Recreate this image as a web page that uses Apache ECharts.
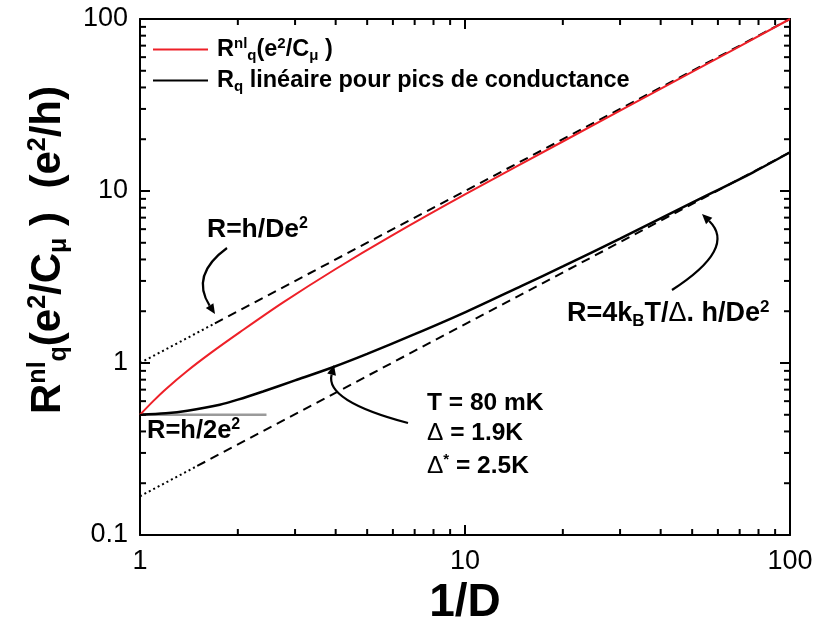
<!DOCTYPE html>
<html><head><meta charset="utf-8">
<script src="https://cdn.jsdelivr.net/npm/echarts@6/dist/echarts.min.js"></script>
<style>html,body{margin:0;padding:0;background:#fff}#c{width:817px;height:620px}</style>
</head><body><div id="c"></div>
<script>
// ---- data ----
const xMinorTicks = [2,3,4,5,6,7,8,9,20,30,40,50,60,70,80,90];
const yMinorTicks = [0.2,0.3,0.4,0.5,0.6,0.7,0.8,0.9,2,3,4,5,6,7,8,9,20,30,40,50,60,70,80,90];
const xRange = [1, 100];
const yRange = [0.1, 100];

// R^nl_q (red)
const redX = [1, 1.1, 1.2, 1.4, 1.64, 2.03, 2.75, 4, 5.88, 10, 20, 50, 100];
const redY = [0.5, 0.602, 0.704, 0.901, 1.133, 1.511, 2.243, 3.52, 5.43, 9.55, 19.4, 49.2, 100];
// R_q linear (black)
const blackX = [1, 1.2, 1.4, 1.76, 2, 2.39, 3, 3.92, 5, 7, 10, 15, 20, 30, 50, 77, 100];
const blackY = [0.5, 0.51, 0.528, 0.572, 0.612, 0.683, 0.792, 0.945, 1.13, 1.47, 1.97, 2.82, 3.64, 5.28, 8.55, 12.85, 16.8];
// R = h/De^2 (upper reference)
const upperDotX = [1, 1.7];
const upperDotY = [1, 1.7];
const upperDashX = [1.7, 100];
const upperDashY = [1.7, 100];
// R = 4kT/Delta . h/De^2 (lower reference)
const lowerDotX = [1, 1.5];
const lowerDotY = [0.168, 0.252];
const lowerDashX = [1.5, 100];
const lowerDashY = [0.252, 16.8];
// R = h/2e^2
const grayX = [1, 2.45];
const grayY = [0.5, 0.5];

const zip = (a, b) => a.map((v, i) => [v, b[i]]);
const FONT = '"Liberation Sans", Arial, Helvetica, sans-serif';
const chart = echarts.init(document.getElementById('c'), null, {renderer: 'canvas'});

function majorAxis(dim, pos, showLabel) {
  return {
    type: 'log', logBase: 10, position: pos,
    min: dim === 'x' ? xRange[0] : yRange[0], max: dim === 'x' ? xRange[1] : yRange[1],
    axisLine: {show: true, onZero: false, lineStyle: {color: '#000', width: 2}},
    axisTick: {show: true, inside: true, length: 10, lineStyle: {color: '#000', width: 2}},
    axisLabel: {show: showLabel, fontFamily: FONT, fontSize: 27, color: '#000', margin: dim === 'x' ? 13 : 12},
    splitLine: {show: false}
  };
}
const xAxes = [
  Object.assign(majorAxis('x', 'bottom', true), {
    name: '1/D', nameLocation: 'middle', nameGap: 42,
    nameTextStyle: {fontFamily: FONT, fontWeight: 'bold', fontSize: 46, color: '#000'}
  }),
  majorAxis('x', 'top', false)
];
const yAxes = [
  Object.assign(majorAxis('y', 'left', true), {
    name: '{m|R}{sup|nl}{sub|q}{m|(e}{sup|2}{m|/C}{sub|μ}{m| )  (e}{sup|2}{m|/h)}',
    nameLocation: 'middle', nameGap: 52, nameRotate: 90,
    nameTextStyle: {
      color: '#000', padding: [0, 0, 0, 54],
      rich: {
        m: {fontFamily: FONT, fontWeight: 'bold', fontSize: 42, color: '#000'},
        sup: {fontFamily: FONT, fontWeight: 'bold', fontSize: 25, color: '#000', padding: [0, 0, 20, 0]},
        sub: {fontFamily: FONT, fontWeight: 'bold', fontSize: 25, color: '#000', padding: [22, 0, 0, 0]}
      }
    }
  }),
  majorAxis('y', 'right', false)
];
function richOf(size) {
  const s = Math.round(size * 0.62);
  return {
    m: {fontFamily: FONT, fontWeight: 'bold', fontSize: size, color: '#000'},
    d: {fontFamily: FONT, fontWeight: 'normal', fontSize: size, color: '#000'},
    sup: {fontFamily: FONT, fontWeight: 'bold', fontSize: s, color: '#000', padding: [0, 0, Math.round(size * 0.5), 0]},
    sub: {fontFamily: FONT, fontWeight: 'bold', fontSize: s, color: '#000', padding: [Math.round(size * 0.55), 0, 0, 0]}
  };
}
function arrow(x0, y0, cx, cy, x1, y1) {
  const ang = Math.atan2(y1 - cy, x1 - cx);
  const L = 10, W = 4.5;
  const bx = x1 - L * Math.cos(ang), by = y1 - L * Math.sin(ang);
  const nx = -Math.sin(ang), ny = Math.cos(ang);
  return [
    {type: 'bezierCurve', shape: {x1: x0, y1: y0, cpx1: cx, cpy1: cy, x2: bx, y2: by}, style: {stroke: '#000', lineWidth: 2.2, fill: null}, z: 100},
    {type: 'polygon', shape: {points: [[x1, y1], [bx + nx * W, by + ny * W], [bx - nx * W, by - ny * W]]}, style: {fill: '#000'}, z: 100}
  ];
}
function label(x, y, text, size) {
  return {type: 'text', x: x, y: y, z: 100, style: {text: text, rich: richOf(size), align: 'left', verticalAlign: 'middle', fill: '#000'}};
}
const annotations = [].concat(
  arrow(227, 248, 190, 275, 215, 314),
  arrow(672, 290, 737, 248, 702, 214),
  arrow(408, 423, 325, 401, 334, 365),
  [
    label(207, 230, '{m|R=h/De}{sup|2}', 26.5),
    label(147, 431, '{m|R=h/2e}{sup|2}', 25.5),
    label(567, 314, '{m|R=4k}{sub|B}{m|T/}{d|Δ}{m|. h/De}{sup|2}', 27),
    label(427, 403, '{m|T = 80 mK}', 24.5),
    label(427, 433, '{d|Δ}{m| = 1.9K}', 24.5),
    label(427, 466, '{d|Δ}{sup|*}{m| = 2.5K}', 24.5)
  ]
);
const lineSeries = (name, data, color, width, type, z, smooth) => ({
  name: name, type: 'line', data: data, showSymbol: false, symbol: 'none', smooth: smooth || false,
  lineStyle: {color: color, width: width, type: type}, itemStyle: {color: color}, z: z, silent: true,
  xAxisIndex: 0, yAxisIndex: 0, animation: false
});
const option = {
  animation: false,
  backgroundColor: '#fff',
  grid: {left: 140, right: 27, top: 19, bottom: 85, containLabel: false, outerBoundsMode: 'none'},
  xAxis: xAxes,
  yAxis: yAxes,
  legend: {
    orient: 'vertical', left: 148, top: 31, itemWidth: 55, itemHeight: 2, itemGap: 5,
    data: [{name: 'red', icon: 'rect'}, {name: 'black', icon: 'rect'}],
    formatter: function (n) {
      return n === 'red'
        ? '{m|R}{sup|nl}{sub|q}{m|(e}{sup|2}{m|/C}{sub|μ}{m| )}'
        : '{m|R}{sub|q}{m| linéaire pour pics de conductance}';
    },
    textStyle: {rich: richOf(23.5), padding: [0, 0, 0, 4]},
    selectedMode: false
  },
  graphic: annotations,
  series: [
    lineSeries('upperDot', zip(upperDotX, upperDotY), '#000', 2, [2, 3], 2),
    lineSeries('upperDash', zip(upperDashX, upperDashY), '#000', 2, [9, 6], 2),
    lineSeries('lowerDot', zip(lowerDotX, lowerDotY), '#000', 2, [2, 3], 2),
    lineSeries('lowerDash', zip(lowerDashX, lowerDashY), '#000', 2, [9, 6], 2),
    lineSeries('gray', zip(grayX, grayY), '#9a9a9a', 2.5, 'solid', 3),
    lineSeries('black', zip(blackX, blackY), '#000', 2.5, 'solid', 5, 0.3),
    lineSeries('red', zip(redX, redY), '#ee2028', 2, 'solid', 6, 0.3)
  ]
};
chart.setOption(option);

// minor ticks: positions come from the chart's own axis scales
const TICK = 6;
const tickEls = [];
const addTick = (dataPt, dx, dy) => {
  const p = chart.convertToPixel({xAxisIndex: 0, yAxisIndex: 0}, dataPt);
  if (!p || isNaN(p[0]) || isNaN(p[1])) return;
  tickEls.push({type: 'line', z: 50, silent: true,
    shape: {x1: p[0], y1: p[1], x2: p[0] + dx * TICK, y2: p[1] + dy * TICK},
    style: {stroke: '#000', lineWidth: 2}});
};
xMinorTicks.forEach(v => { addTick([v, yRange[0]], 0, -1); addTick([v, yRange[1]], 0, 1); });
yMinorTicks.forEach(v => { addTick([xRange[0], v], 1, 0); addTick([xRange[1], v], -1, 0); });
chart.setOption({graphic: annotations.concat(tickEls)});
</script></body></html>
